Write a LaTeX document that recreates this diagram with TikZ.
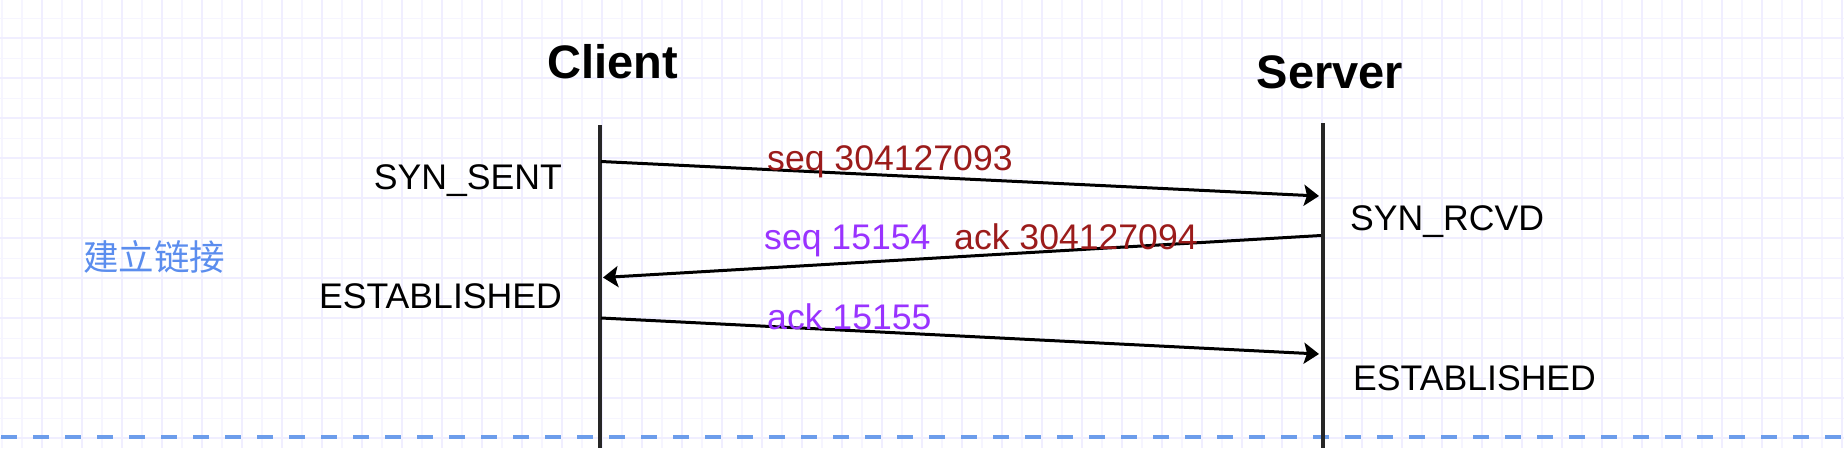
\documentclass[tikz,border=0pt]{standalone}
\usepackage{fontspec}
\setmainfont{Liberation Sans}
\newfontfamily\cjk{Noto Sans CJK SC}
\usetikzlibrary{arrows.meta}
\definecolor{gridminor}{RGB}{246,245,255}
\definecolor{gridmajor}{RGB}{240,238,255}
\definecolor{seqred}{RGB}{155,27,27}
\definecolor{seqpurple}{RGB}{153,51,255}
\definecolor{cnblue}{RGB}{91,141,238}
\definecolor{dashblue}{RGB}{108,157,235}
\begin{document}
\begin{tikzpicture}[x=1pt,y=-1pt,
  lbl/.style={inner sep=0pt, font=\fontsize{35.6}{42}\selectfont},
  titletext/.style={inner sep=0pt, font=\fontsize{47}{56}\selectfont\bfseries},
  lifeline/.style={line width=4pt, black!85},
  msg/.style={line width=3pt, black, -{Stealth[length=15pt,width=21pt,inset=3pt]}},
  gminor/.style={gridminor, line width=1.6pt},
  gmajor/.style={gridmajor, line width=2pt}]
\fill[white] (0,0) rectangle (1844,448);
\useasboundingbox (0,0) rectangle (1844,448);
% grid
\foreach \x in {1.7,21.7,...,1844} \draw[gminor] (\x,0) -- (\x,448);
\foreach \y in {18.3,38.3,...,448} \draw[gminor] (0,\y) -- (1844,\y);
\foreach \x in {41.7,81.7,...,1844} \draw[gmajor] (\x,0) -- (\x,448);
\foreach \y in {38.3,78.3,...,448} \draw[gmajor] (0,\y) -- (1844,\y);
% dashed separator
\coordinate (dl) at (1,436.5);
\coordinate (dr) at (1844,436.5);
\draw[dashblue, line width=4pt, dash pattern=on 16pt off 16pt] (dl) -- (dr);
% titles
\node[titletext, anchor=base] (client) at (612.5,78) {Client};
\node[titletext, anchor=base] (server) at (1330,88) {Server};
% lifelines
\coordinate (ctop) at (599.5,125);
\coordinate (cbot) at (599.5,448);
\coordinate (stop) at (1323,123);
\coordinate (sbot) at (1323,448);
\draw[lifeline] (ctop) -- (cbot);
\draw[lifeline] (stop) -- (sbot);
% messages
\coordinate (m1s) at (601,161.5);
\coordinate (m1e) at (1319,196);
\coordinate (m2s) at (1321,235.5);
\coordinate (m2e) at (603,277.5);
\coordinate (m3s) at (601,318);
\coordinate (m3e) at (1319,354);
\draw[msg] (m1s) -- (m1e);
\draw[msg] (m2s) -- (m2e);
\draw[msg] (m3s) -- (m3e);
% message labels
\node[lbl, anchor=base west, text=seqred] (l1) at (767,170) {seq 304127093};
\node[lbl, anchor=base west, text=seqpurple] (l2a) at (764,249) {seq 15154};
\node[lbl, anchor=base west, text=seqred] (l2b) at (954,249) {ack 304127094};
\node[lbl, anchor=base west, text=seqpurple] (l3) at (767,329) {ack 15155};
% states
\node[lbl, anchor=base east] (synsent) at (562,189) {SYN\_SENT};
\node[lbl, anchor=base east] (estc) at (562,308) {ESTABLISHED};
\node[lbl, anchor=base west] (synrcvd) at (1350,230) {SYN\_RCVD};
\node[lbl, anchor=base west] (ests) at (1353,390) {ESTABLISHED};
% phase label
\node[inner sep=0pt, font=\cjk\fontsize{35.5}{42}\selectfont, text=cnblue] (phase) at (154,257) {建立链接};
\end{tikzpicture}
\end{document}
